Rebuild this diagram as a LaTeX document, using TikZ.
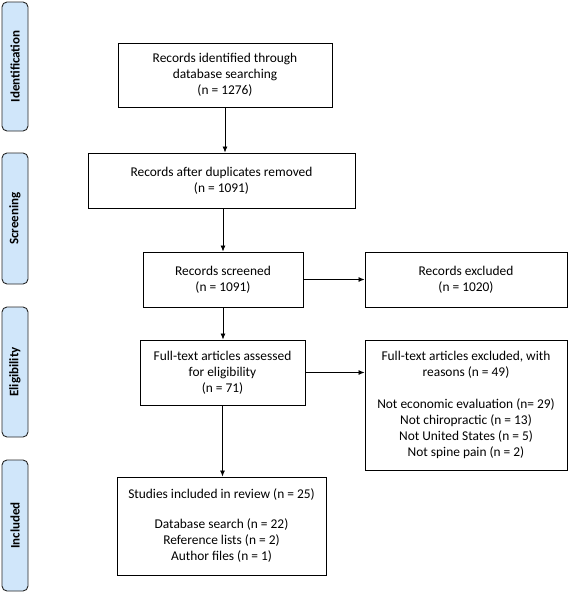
\documentclass[tikz,border=0pt]{standalone}
\usepackage{fontspec}
\setmainfont{Carlito}
\usetikzlibrary{arrows.meta}
\definecolor{sidefill}{RGB}{208,230,250}
\begin{document}
\begin{tikzpicture}[x=1pt,y=-1pt,
  box/.style={draw=black, line width=0.9pt, inner sep=0pt, align=center, font=\fontsize{13.4}{16}\selectfont,
    execute at begin node={\rule{0pt}{15pt}}},
  side/.style={draw=black!85, fill=sidefill, line width=0.9pt, rounded corners=5pt, inner sep=0pt, minimum width=26pt},
  sidetext/.style={rotate=90, font=\fontsize{13}{15}\selectfont\bfseries},
  arr/.style={-{Latex[length=6pt,width=5pt]}, line width=0.8pt}]
\useasboundingbox (0,0) rectangle (568,592);
% side labels
\node[side, minimum height=129pt] (sid) at (15,66.5) {};
\node[sidetext] (tid) at (sid.center) {Identification};
\node[side, minimum height=131pt] (ssc) at (15,218.5) {};
\node[sidetext] (tsc) at (ssc.center) {Screening};
\node[side, minimum height=130pt] (sel) at (15,372) {};
\node[sidetext] (tel) at (sel.center) {Eligibility};
\node[side, minimum height=131pt] (sin) at (15,525.5) {};
\node[sidetext] (tin) at (sin.center) {Included};
% boxes
\node[box, minimum width=214pt, minimum height=64pt] (b1) at (225,75) {Records identified through\\database searching\\(n = 1276)};
\node[box, minimum width=267pt, minimum height=55pt] (b2) at (221.5,180.5) {Records after duplicates removed\\(n = 1091)};
\node[box, minimum width=160pt, minimum height=55pt] (b3) at (223,279.5) {Records screened\\(n = 1091)};
\node[box, minimum width=202pt, minimum height=55pt] (b3r) at (466,279.5) {Records excluded\\(n = 1020)};
\node[box, minimum width=165pt, minimum height=65pt] (b4) at (222.5,372.5) {Full-text articles assessed\\for eligibility\\(n = 71)};
\node[box, minimum width=202pt, minimum height=130pt] (b4r) at (466,405) {Full-text articles excluded, with\\reasons (n = 49)\\[16pt]Not economic evaluation (n= 29)\\Not chiropractic (n = 13)\\Not United States (n = 5)\\Not spine pain (n = 2)};
\node[box, minimum width=209pt, minimum height=98pt] (b5) at (221.5,526) {Studies included in review (n = 25)\\[14pt]Database search (n = 22)\\Reference lists (n = 2)\\Author files (n = 1)};
% arrows
\draw[arr] (b1.south) -- (b1.south |- b2.north);
\draw[arr] (b3.north |- b2.south) -- (b3.north);
\draw[arr] (b3.south) -- (b3.south |- b4.north);
\draw[arr] (b4.south) -- (b4.south |- b5.north);
\draw[arr] (b3.east) -- (b3r.west);
\draw[arr] (b4.east) -- (b4.east -| b4r.west);
\end{tikzpicture}
\end{document}
